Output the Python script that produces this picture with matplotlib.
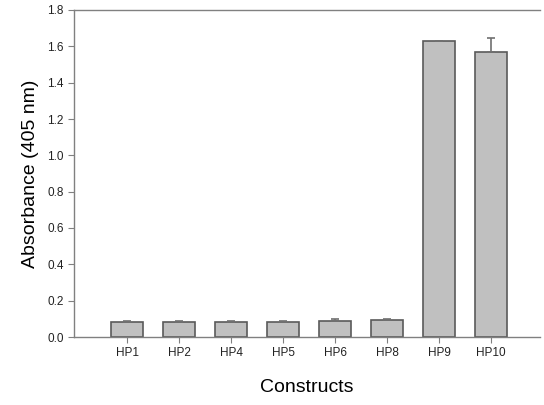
import numpy as np
import matplotlib.pyplot as plt

plt.rcParams['font.family'] = ['Liberation Sans', 'DejaVu Sans']

constructs = ['HP1', 'HP2', 'HP4', 'HP5', 'HP6', 'HP8', 'HP9', 'HP10']
absorbance = [0.084, 0.085, 0.084, 0.085, 0.088, 0.092, 1.630, 1.567]
errors = [0.004, 0.003, 0.003, 0.005, 0.010, 0.006, 0.0, 0.077]

fig = plt.figure(figsize=(5.44, 4.05), dpi=100)
ax = fig.add_axes([74 / 544, 1 - 337 / 405, 466 / 544, 327 / 405])

x = np.arange(len(constructs))
# only the upper half of the error bar shows
ax.bar(x, absorbance, width=0.63, color='#c0c0c0', edgecolor='#5a5a5a', linewidth=1.2,
       yerr=[np.zeros(len(errors)), errors],
       error_kw=dict(ecolor='#707070', elinewidth=1.2, capsize=3, capthick=1.2))

ax.set_xlim(-1.02, 7.94)
ax.set_ylim(0, 1.8)
ax.set_yticks(np.arange(0, 1.81, 0.2))
ax.set_yticklabels(['%.1f' % v for v in np.arange(0, 1.81, 0.2)])
ax.set_xticks(x)
ax.set_xticklabels(constructs)

for s in ['left', 'bottom', 'top']:
    ax.spines[s].set_color('#808080')
    ax.spines[s].set_linewidth(1.0)
ax.spines['right'].set_visible(False)
ax.tick_params(direction='out', color='#808080', length=4, labelsize=8.5, labelcolor='#222222')

ax.set_ylabel('Absorbance (405 nm)', fontsize=14, labelpad=6)
ax.set_xlabel('Constructs', fontsize=14, labelpad=14)

fig.savefig('out.png', dpi=100)
